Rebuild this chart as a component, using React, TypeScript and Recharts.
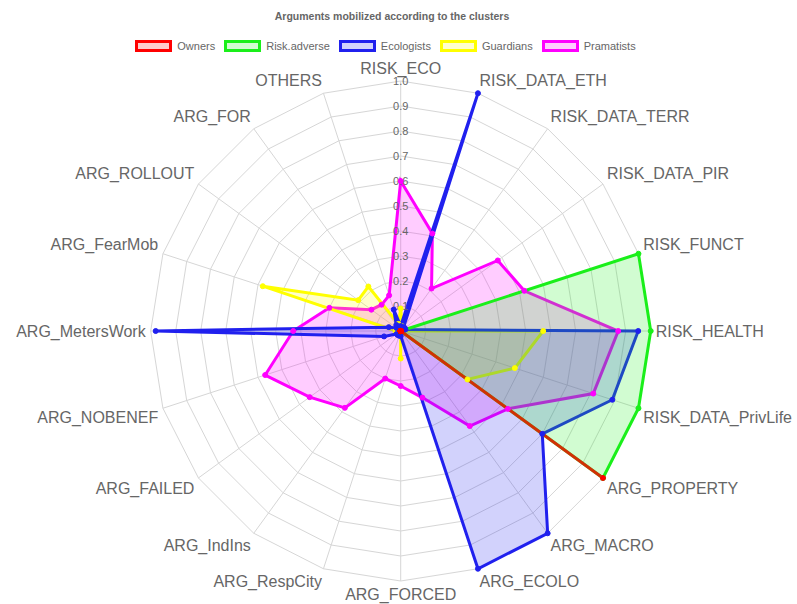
import React from 'react';
import { RadarChart, Radar, PolarGrid, PolarAngleAxis, PolarRadiusAxis } from 'recharts';

const categories = [
  'RISK_ECO', 'RISK_DATA_ETH', 'RISK_DATA_TERR', 'RISK_DATA_PIR', 'RISK_FUNCT',
  'RISK_HEALTH', 'RISK_DATA_PrivLife', 'ARG_PROPERTY', 'ARG_MACRO', 'ARG_ECOLO',
  'ARG_FORCED', 'ARG_RespCity', 'ARG_IndIns', 'ARG_FAILED', 'ARG_NOBENEF',
  'ARG_MetersWork', 'ARG_FearMob', 'ARG_ROLLOUT', 'ARG_FOR', 'OTHERS',
];

const radiusTicks = [0, 0.1, 0.2, 0.3, 0.4, 0.5, 0.6, 0.7, 0.8, 0.9, 1.0];

const owners = [0, 0, 0, 0, 0, 0, 0, 1, 0, 0, 0, 0, 0, 0, 0, 0, 0, 0, 0, 0];
const riskAdverse = [0, 0, 0, 0, 1, 1, 1, 1, 0, 0, 0, 0, 0, 0, 0, 0, 0, 0, 0, 0];
const ecologists = [0.02, 1.0, 0.02, 0.02, 0.02, 0.95, 0.89, 0.7, 1.0, 1.0, 0.02, 0.02, 0.02, 0.02, 0.07, 0.98, 0.05, 0.02, 0.03, 0.09];
const guardians = [0.09, 0.02, 0, 0, 0, 0.57, 0.48, 0.33, 0, 0, 0.11, 0, 0, 0, 0, 0.02, 0.58, 0.21, 0.22, 0.03];
const pramatists = [0.6, 0.41, 0.21, 0.48, 0.52, 0.87, 0.81, 0.53, 0.47, 0.28, 0.22, 0.2, 0.38, 0.45, 0.57, 0.43, 0.3, 0.145, 0.13, 0.15];

// legend order
const series = [
  { key: 'owners', name: 'Owners', values: owners, color: '#ff0000', lineOpacity: 0.8 },
  { key: 'riskAdverse', name: 'Risk.adverse', values: riskAdverse, color: '#1aef1a', lineOpacity: 1 },
  { key: 'ecologists', name: 'Ecologists', values: ecologists, color: '#2020ee', lineOpacity: 1 },
  { key: 'guardians', name: 'Guardians', values: guardians, color: '#ffff00', lineOpacity: 1 },
  { key: 'pramatists', name: 'Pramatists', values: pramatists, color: '#ff00ff', lineOpacity: 1 },
];

// first dataset ends up on top, like chart.js
const drawOrder = [...series].reverse();

const OUTER = 250;

const chartData = categories.map((c, i) => {
  const row: any = { axis: c };
  series.forEach(s => { row[s.key] = s.values[i]; });
  return row;
});

const FONT = '"Liberation Sans", Arial, sans-serif';

const AngleTick = (props: any) => {
  const { x, y, index, payload } = props;
  const deg = (360 / categories.length) * index;
  const anchor = deg === 0 || deg === 180 ? 'middle' : deg < 180 ? 'start' : 'end';
  let dy = 0;
  if (deg === 90 || deg === 270) dy = 0;
  else if (deg < 90 || deg > 270) dy = -8;
  else dy = 8;
  return (
    <text x={x} y={y + dy} textAnchor={anchor} dominantBaseline="central" fontSize={16} fill="#666" fontFamily={FONT}>
      {payload.value}
    </text>
  );
};

const RadiusTick = (props: any) => {
  const { x, y, payload } = props;
  if (payload.value <= 0) return null;
  return (
    <text x={x} y={y} textAnchor="middle" dominantBaseline="central" fontSize={11} fill="#666" fontFamily={FONT}>
      {Number(payload.value).toFixed(1)}
    </text>
  );
};

export default function App() {
  return (
    <div style={{ position: 'absolute', left: 0, top: 0, width: 797, height: 604, background: '#fff', fontFamily: FONT }}>
      <div style={{ position: 'absolute', left: 0, top: 9, width: 784, textAlign: 'center', fontSize: 10.5, fontWeight: 'bold', color: '#666', lineHeight: '14px' }}>
        Arguments mobilized according to the clusters
      </div>
      <div style={{ position: 'absolute', left: 0, top: 40, width: 771, height: 12, display: 'flex', justifyContent: 'center', alignItems: 'center', gap: 9 }}>
        {series.map(s => (
          <div key={s.key} style={{ display: 'flex', alignItems: 'center', gap: 5 }}>
            <div style={{ width: 37, height: 12, boxSizing: 'border-box', border: `3px solid ${s.color}`, background: s.color + '33' }} />
            <span style={{ fontSize: 11, color: '#666', lineHeight: '12px' }}>{s.name}</span>
          </div>
        ))}
      </div>
      <div style={{ position: 'absolute', left: 0, top: 0 }}>
        <RadarChart width={797} height={604} data={chartData} cx={400.7} cy={331} outerRadius={OUTER} margin={{ top: 0, right: 0, bottom: 0, left: 0 }}>
          <PolarGrid gridType="polygon" stroke="#d6d6d6" strokeWidth={1} polarRadius={radiusTicks.map(t => t * OUTER)} />
          <PolarAngleAxis dataKey="axis" tick={AngleTick} tickLine={false} tickSize={5} axisLine={false} />
          <PolarRadiusAxis angle={90} domain={[0, 1]} ticks={radiusTicks as any} tickCount={11} axisLine={false} tick={RadiusTick} />
          {drawOrder.map(s => (
            <Radar
              key={s.key}
              name={s.name}
              dataKey={s.key}
              stroke={s.color}
              strokeOpacity={s.lineOpacity}
              strokeWidth={3}
              fill={s.color}
              fillOpacity={0.2}
              dot={{ r: 2.5, fill: s.color, stroke: s.color, strokeWidth: 1, fillOpacity: 1, strokeOpacity: 1 }}
              isAnimationActive={false}
            />
          ))}
        </RadarChart>
      </div>
    </div>
  );
}
